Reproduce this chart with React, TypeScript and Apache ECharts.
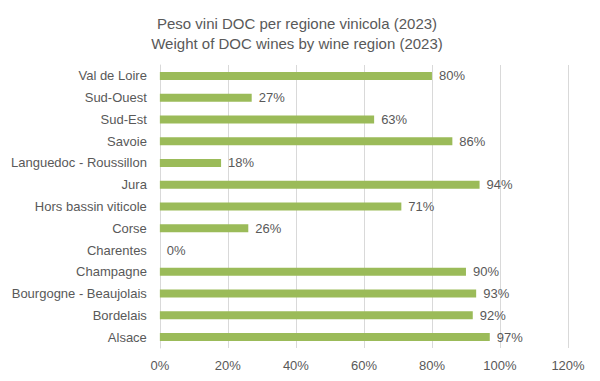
import React, { useEffect, useRef } from "react";
import * as echarts from "echarts";

const categories = [
  "Val de Loire",
  "Sud-Ouest",
  "Sud-Est",
  "Savoie",
  "Languedoc - Roussillon",
  "Jura",
  "Hors bassin viticole",
  "Corse",
  "Charentes",
  "Champagne",
  "Bourgogne - Beaujolais",
  "Bordelais",
  "Alsace",
];
const values = [80, 27, 63, 86, 18, 94, 71, 26, 0, 90, 93, 92, 97];
const titleLines = [
  "Peso vini DOC per regione vinicola (2023)",
  "Weight of DOC wines by wine region (2023)",
];

export default function App() {
  const ref = useRef<HTMLDivElement>(null);
  useEffect(() => {
    const chart = echarts.init(ref.current!, null, { renderer: "svg" });
    const textColor = "#595959";
    const font = "Liberation Sans, sans-serif";
    chart.setOption({
      animation: false,
      title: {
        text: titleLines.join("\n"),
        left: 292 - 8,
        textAlign: "center",
        top: 0,
        textStyle: {
          fontFamily: font,
          fontSize: 15,
          fontWeight: "normal",
          color: textColor,
          lineHeight: 20,
        },
      },
      grid: { left: 147, right: 40, top: 57, bottom: 41, containLabel: false },
      xAxis: {
        type: "value",
        min: 0,
        max: 120,
        interval: 20,
        axisLabel: {
          formatter: "{value}%",
          color: textColor,
          fontSize: 13,
          fontFamily: font,
          margin: 11,
        },
        splitLine: { lineStyle: { color: "#d9d9d9", width: 1 } },
        axisLine: { show: false },
        axisTick: { show: false },
      },
      yAxis: {
        type: "category",
        data: categories,
        inverse: true,
        axisLabel: {
          color: textColor,
          fontSize: 13,
          fontFamily: font,
          margin: 13,
        },
        axisLine: { show: true, lineStyle: { color: "#d9d9d9" } },
        axisTick: { show: false },
      },
      series: [
        {
          type: "bar",
          data: values,
          barWidth: 8,
          itemStyle: { color: "#9BBB59" },
          label: {
            show: true,
            position: "right",
            distance: 7,
            formatter: "{c}%",
            color: textColor,
            fontSize: 13,
            fontFamily: font,
          },
        },
      ],
    });
    return () => chart.dispose();
  }, []);
  return <div ref={ref} style={{ width: 600, height: 381 }} />;
}
